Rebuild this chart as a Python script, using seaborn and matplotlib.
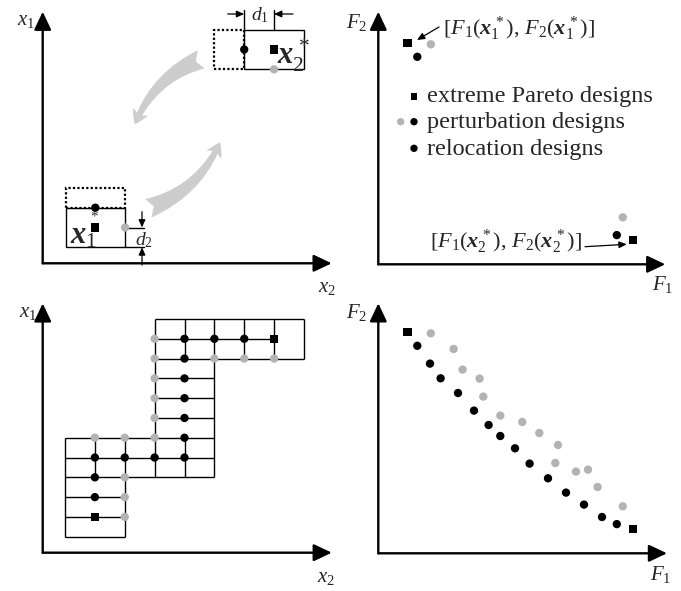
import matplotlib
matplotlib.use("Agg")
import matplotlib.pyplot as plt
import seaborn as sns
from matplotlib.patches import Rectangle, FancyArrowPatch

sns.set_theme(style="white")
plt.rcParams['font.family'] = ['Liberation Serif', 'DejaVu Serif']
plt.rcParams['mathtext.fontset'] = 'custom'
plt.rcParams['mathtext.rm'] = 'Liberation Serif'
plt.rcParams['mathtext.it'] = 'Liberation Serif:italic'
plt.rcParams['mathtext.bf'] = 'Liberation Serif:bold'
plt.rcParams['mathtext.bfit'] = 'Liberation Serif:italic:bold'

# ---------------- data ----------------
# (a) design space: two extreme Pareto designs and their neighbours (x2, x1)
ext_x2 = [52.6, 231.3]
ext_x1 = [35.8, 213.8]
step_x2 = 29.8
step_x1 = 19.8
tl_black_x2 = [52.6, 201.5]
tl_black_x1 = [55.6, 213.8]
tl_gray_x2 = [82.4, 231.3]
tl_gray_x1 = [35.8, 194.0]

# (c) grid of designs, cell indices (x2, x1)
grid_gray_x2 = [3, 3, 3, 3, 3, 3, 1, 2, 2, 2, 2, 5, 6, 7]
grid_gray_x1 = [10, 9, 8, 7, 6, 5, 5, 5, 3, 2, 1, 9, 9, 9]
grid_black_x2 = [4, 5, 6, 4, 4, 4, 4, 4, 4, 3, 2, 1, 1, 1]
grid_black_x1 = [10, 10, 10, 9, 8, 7, 6, 5, 4, 4, 4, 4, 3, 2]
grid_ext_x2 = [7, 1]
grid_ext_x1 = [10, 1]
# grid lines: (row, col_start, col_end) and (col, row_start, row_end)
h_rows = [0, 1, 2, 3, 4, 5, 6, 7, 8, 9, 10, 11]
h_from = [0, 0, 0, 0, 0, 0, 3, 3, 3, 3, 3, 3]
h_to = [2, 2, 2, 5, 5, 5, 5, 5, 5, 8, 7, 8]
v_cols = [0, 1, 2, 3, 4, 4, 5, 6, 7, 8]
v_from = [0, 3, 0, 3, 3, 9, 3, 9, 9, 9]
v_to = [5, 5, 5, 11, 5, 11, 11, 11, 11, 11]

# (b), (d) objective space (F1, F2)
pareto_F1 = [29.3, 255.0]
pareto_F2 = [221.0, 24.5]
reloc_F1 = [39.0, 51.7, 62.3, 79.7, 95.7, 110.3, 122.0, 136.7, 151.3, 169.7,
            187.7, 205.7, 223.7, 238.5]
reloc_F2 = [207.5, 189.7, 175.0, 160.3, 142.7, 128.3, 117.3, 105.0, 89.7, 75.0,
            60.7, 48.7, 36.3, 29.2]
pert_F1 = [52.5, 75.3, 84.3, 101.3, 105.0, 122.0, 144.0, 161.0, 179.7, 177.0,
           197.7, 209.7, 219.3, 244.5]
pert_F2 = [220.0, 204.3, 183.7, 174.7, 156.7, 137.7, 131.3, 120.3, 108.3, 90.3,
           81.7, 83.7, 66.3, 47.0]

legend_labels = ["extreme Pareto designs", "perturbation designs", "relocation designs"]

BLACK = "black"
GRAY = "#b3b3b3"
ARROW_GRAY = "#cdcdcd"
DOT = 36
SQ = 36

# ---------------- layout ----------------
W, H = 681, 591
fig = plt.figure(figsize=(W / 100, H / 100), dpi=100)


def panel(box, origin, scale=(1.0, 1.0)):
    l, t, r, b = box
    ox, oy = origin
    sx, sy = scale
    ax = fig.add_axes([l / W, 1 - b / H, (r - l) / W, (b - t) / H])
    ax.set_xlim((l - ox) / sx, (r - ox) / sx)
    ax.set_ylim((oy - b) / sy, (oy - t) / sy)
    ax.axis('off')
    return ax


def axis_arrows(ax, x0, y0, xt, yt):
    props = dict(arrowstyle='-|>,head_length=1.1,head_width=0.52', lw=1.7,
                 color=BLACK, shrinkA=0, shrinkB=0, mutation_scale=10)
    ax.annotate('', xy=(xt, y0), xytext=(x0, y0), arrowprops=props, annotation_clip=False)
    ax.annotate('', xy=(x0, yt), xytext=(x0, y0), arrowprops=props, annotation_clip=False)


def dots(ax, x, y, color, marker='o', s=DOT):
    sns.scatterplot(x=x, y=y, ax=ax, color=color, marker=marker, s=s,
                    edgecolor='none', linewidth=0, zorder=4, legend=False, clip_on=False)


def small_arrow(ax, start, end):
    ax.annotate('', xy=end, xytext=start,
                arrowprops=dict(arrowstyle='-|>,head_length=0.45,head_width=0.2', lw=0.9,
                                color=BLACK, shrinkA=0, shrinkB=0, mutation_scale=10))


LAB = 15

# ---------------- (a) top-left ----------------
ax = panel((0, 0, 340, 295), (42.7, 263.3))
axis_arrows(ax, 0, 0, 289, 251.6)
ax.text(-8, 238.5, r"$x_1$", fontsize=LAB, ha='right', va='baseline')
ax.text(275.5, -28.5, r"$x_2$", fontsize=LAB, ha='left', va='baseline')

# boxes around x1*
cx, cy = ext_x2[0], ext_x1[0]
ax.add_patch(Rectangle((cx - step_x2, cy - step_x1), 2 * step_x2, 2 * step_x1,
                       fill=False, ec=BLACK, lw=1.0, zorder=2))
ax.add_patch(Rectangle((cx - step_x2, cy + step_x1), 2 * step_x2, step_x1,
                       fill=False, ec=BLACK, lw=1.6, ls=(0, (1, 1)), zorder=2))
# boxes around x2*
cx2, cy2 = ext_x2[1], ext_x1[1]
ax.add_patch(Rectangle((cx2 - step_x2, cy2 - step_x1), 2 * step_x2, 2 * step_x1,
                       fill=False, ec=BLACK, lw=1.0, zorder=2))
ax.add_patch(Rectangle((cx2 - 2 * step_x2, cy2 - step_x1), step_x2, 2 * step_x1,
                       fill=False, ec=BLACK, lw=1.6, ls=(0, (1, 1)), zorder=2))
dots(ax, tl_black_x2, tl_black_x1, BLACK)
dots(ax, tl_gray_x2, tl_gray_x1, GRAY)
dots(ax, ext_x2, ext_x1, BLACK, marker='s', s=SQ)
ax.text(27.3, 20, r"$\mathbfit{x}_1$", fontsize=22, ha='left', va='baseline')
ax.text(cx - 0.5, cy + 11.5, r"$*$", fontsize=11, ha='center', va='center', color='#333333')
ax.text(234.0, 198.5, r"$\mathbfit{x}_2^{\,*}$", fontsize=22, ha='left', va='baseline')

# d1 dimension
ax.plot([cx2 - step_x2, cx2 - step_x2], [cy2 + step_x1, cy2 + step_x1 + 19.5], color=BLACK, lw=1.0)
ax.plot([cx2, cx2], [cy2 + step_x1, cy2 + step_x1 + 19.5], color=BLACK, lw=1.0)
small_arrow(ax, (cx2 - step_x2 - 16.5, 249.3), (cx2 - step_x2, 249.3))
small_arrow(ax, (cx2 + 19, 249.3), (cx2, 249.3))
ax.text(cx2 - step_x2 / 2 + 1, 243, r"$d_1$", fontsize=14, ha='center', va='baseline')
# d2 dimension
ax.plot([cx + step_x2, cx + step_x2 + 18.5], [cy, cy], color=BLACK, lw=1.0)
ax.plot([cx + step_x2, cx + step_x2 + 18.5], [cy - step_x1, cy - step_x1], color=BLACK, lw=1.0)
small_arrow(ax, (99.3, 51.6), (99.3, cy))
small_arrow(ax, (99.3, -1.7), (99.3, cy - step_x1))
ax.text(101, 18.5, r"$d_2$", fontsize=14, ha='center', va='baseline')

# large curved grey arrows
for a, b in [((158.5, 204.0), (92.3, 139.0)), ((105.6, 55.0), (177.3, 121.0))]:
    ax.add_patch(FancyArrowPatch(a, b, connectionstyle='arc3,rad=0.22',
                                 arrowstyle='fancy,head_length=10,head_width=12,tail_width=14',
                                 mutation_scale=1, color=ARROW_GRAY, lw=0,
                                 shrinkA=0, shrinkB=0, zorder=1))

# ---------------- (b) top-right ----------------
ax = panel((340, 0, 681, 295), (378.3, 264.3))
axis_arrows(ax, 0, 0, 287, 252.6)
ax.text(-32, 236, r"$F_2$", fontsize=LAB, ha='left', va='baseline')
ax.text(273.5, -25.7, r"$F_1$", fontsize=LAB, ha='left', va='baseline')
dots(ax, [reloc_F1[0], reloc_F1[-1]], [reloc_F2[0], reloc_F2[-1]], BLACK)
dots(ax, [pert_F1[0], pert_F1[-1]], [pert_F2[0], pert_F2[-1]], GRAY)
dots(ax, pareto_F1, pareto_F2, BLACK, marker='s', s=SQ)
ax.text(65, 229.5, r"$[F_1(\mathbfit{x}_1^{\,*}),\,F_2(\mathbfit{x}_1^{\,*})]$",
        fontsize=16, ha='left', va='baseline')
small_arrow(ax, (60.7, 237.3), (38.7, 224.3))
ax.text(51.7, 16, r"$[F_1(\mathbfit{x}_2^{\,*}),\,F_2(\mathbfit{x}_2^{\,*})]$",
        fontsize=16, ha='left', va='baseline')
small_arrow(ax, (206.7, 17.6), (248.4, 20.0))
# legend
dots(ax, [35.7], [167.6], BLACK, marker='s', s=24)
dots(ax, [22.4], [142.6], GRAY, s=28)
dots(ax, [35.7, 35.7], [142.6, 116.0], BLACK, s=28)
for yb, lab in zip([162.6, 136.0, 109.3], legend_labels):
    ax.text(48.7, yb, lab, fontsize=17.5, ha='left', va='baseline')

# ---------------- (c) bottom-left ----------------
ax = panel((0, 295, 340, 591), (65, 536.7), (29.875, 19.79))
axis_arrows(ax, -0.746, -0.808, 8.93, 11.79)
ax.text(-0.93, 11.12, r"$x_1$", fontsize=LAB, ha='right', va='baseline')
ax.text(8.42, -2.27, r"$x_2$", fontsize=LAB, ha='left', va='baseline')
ax.hlines(h_rows, h_from, h_to, color=BLACK, lw=1.0, zorder=2)
ax.vlines(v_cols, v_from, v_to, color=BLACK, lw=1.0, zorder=2)
dots(ax, grid_gray_x2, grid_gray_x1, GRAY)
dots(ax, grid_black_x2, grid_black_x1, BLACK)
dots(ax, grid_ext_x2, grid_ext_x1, BLACK, marker='s', s=SQ)

# ---------------- (d) bottom-right ----------------
ax = panel((340, 295, 681, 591), (378.3, 553.3))
axis_arrows(ax, 0, 0, 288.7, 250)
ax.text(-32, 235, r"$F_2$", fontsize=LAB, ha='left', va='baseline')
ax.text(272, -26.7, r"$F_1$", fontsize=LAB, ha='left', va='baseline')
dots(ax, pert_F1, pert_F2, GRAY)
dots(ax, reloc_F1, reloc_F2, BLACK)
dots(ax, pareto_F1, pareto_F2, BLACK, marker='s', s=SQ)

fig.savefig("out.png", dpi=100)
